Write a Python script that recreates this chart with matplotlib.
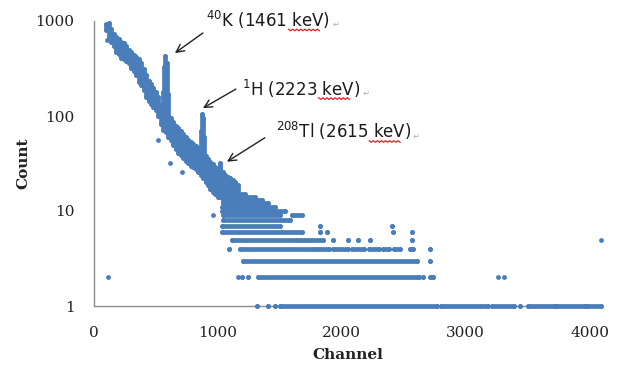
import numpy as np
import matplotlib
matplotlib.use('Agg')
from matplotlib import pyplot as plt
from matplotlib.lines import Line2D

# continuum (channels 100-1160): lowest / highest count seen in each 20-channel bin
band_ch = [100, 120, 140, 160, 180, 200, 220, 240, 260, 280, 300, 320, 340, 360,
           380, 400, 420, 440, 460, 480, 500, 520, 540, 560, 580, 600, 620, 640,
           660, 680, 700, 720, 740, 760, 780, 800, 820, 840, 860, 880, 900, 920,
           940, 960, 980, 1000, 1020, 1040, 1060, 1080, 1100, 1120, 1140, 1160]
band_hi = [920, 950, 820, 730, 680, 640, 600, 580, 540, 500, 470, 440, 420, 400,
           360, 310, 270, 235, 215, 195, 180, 160, 130, 118, 108, 100, 95, 86,
           78, 74, 69, 64, 60, 56, 53, 51, 48, 46, 43, 41, 38, 35,
           33, 31, 29, 28, 29, 26, 24, 23, 22, 21, 20, 19]
band_lo = [800, 680, 600, 540, 470, 450, 410, 400, 380, 360, 320, 300, 270, 230,
           210, 190, 160, 145, 135, 125, 115, 100, 82, 72, 68, 60, 56, 50,
           45, 41, 39, 36, 34, 32, 30, 29, 28, 26, 24, 22, 20, 19,
           17, 16, 15, 14, 14, 13, 13, 12, 11, 11, 11, 11]

# photopeaks (40K, 1H, 208Tl)
peak_ch = [556, 566, 576, 586, 596, 860, 870, 880, 890, 1005, 1015, 1025]
peak_lo = [85, 90, 95, 90, 80, 42, 45, 45, 40, 16, 16, 15]
peak_hi = [180, 330, 430, 360, 170, 70, 105, 95, 60, 26, 32, 24]

# single points away from the main band
iso_ch = [105, 113, 516, 613, 710, 960, 1160, 3258, 3306, 4095]
iso_ct = [630, 2, 56, 32, 26, 9, 2, 2, 2, 5]

# runs of channels sharing the same low integer count
seg_level = [1, 1, 1, 1, 1, 1, 1, 1, 1, 1,
             2, 2, 2, 2, 2,
             3, 3,
             4, 4, 4, 4, 4, 4, 4, 4, 4, 4,
             5, 5, 5, 5, 5, 5, 5, 5,
             6, 6, 6, 6, 6,
             7, 7, 7,
             8, 9, 9, 10, 11, 12, 13, 14, 15]
seg_start = [1315, 1403, 1460, 1500, 2800, 3210, 3435, 3500, 3740, 3980,
             1194, 1242, 1323, 2653, 2710,
             1202, 2710,
             1089, 1177, 1790, 1930, 2080, 2220, 2330, 2420, 2548, 2710,
             1113, 1661, 1730, 1927, 2048, 2129, 2226, 2565,
             1032, 1823, 1879, 2411, 2565,
             1032, 1823, 2403,
             1040, 1040, 1597, 1032, 1032, 1040, 1040, 1060, 1080]
seg_end = [1315, 1403, 1460, 2770, 3180, 3390, 3435, 3720, 3960, 4095,
           1194, 1242, 2620, 2653, 2740,
           2610, 2710,
           1089, 1766, 1900, 2050, 2180, 2300, 2380, 2470, 2573, 2710,
           1637, 1700, 1847, 1927, 2048, 2129, 2226, 2565,
           1677, 1823, 1879, 2411, 2565,
           1500, 1823, 2403,
           1580, 1500, 1677, 1540, 1460, 1403, 1355, 1298, 1218]

labels = [('$^{40}$K (1461 ', 'keV', ')'),
          ('$^{1}$H (2223 ', 'keV', ')'),
          ('$^{208}$Tl (2615 ', 'keV', ')')]
label_xy = [(905, 865), (1195, 164), (1465, 58)]
arrow_tail = [(879, 748), (1145, 192), (1379, 59)]
arrow_head = [(653, 460), (879, 121), (1073, 33)]

blue = '#4a7ebb'
lw = 3.4
ms = 12

plt.rcParams['mathtext.default'] = 'regular'

fig = plt.figure(figsize=(6.2, 3.7), dpi=100)
ax = fig.add_axes([94 / 620, 1 - 306 / 370, 508 / 620, 285 / 370])

kw = dict(color=blue, zorder=3)
cols = [ax.vlines(band_ch, band_lo, band_hi, lw=lw, capstyle='round', **kw),
        ax.vlines(peak_ch, peak_lo, peak_hi, lw=lw, capstyle='round', **kw),
        ax.hlines(seg_level, seg_start, seg_end, lw=lw, capstyle='round', **kw)]
for xs, ys in [(band_ch, band_hi), (band_ch, band_lo), (peak_ch, peak_hi),
               (seg_start, seg_level), (seg_end, seg_level), (iso_ch, iso_ct)]:
    cols.append(ax.scatter(xs, ys, s=ms, marker='o', linewidths=0, **kw))
for c in cols:
    c.set_clip_on(False)

ax.set_yscale('log')
ax.set_xlim(0, 4100)
ax.set_ylim(1, 1000)
ax.set_yticks([1, 10, 100, 1000])
ax.set_yticklabels(['1', '10', '100', '1000'])
ax.set_xticks([0, 1000, 2000, 3000, 4000])
ax.minorticks_off()
ax.tick_params(length=0, labelsize=11, labelcolor='#222222')
ax.tick_params(axis='y', pad=14)
ax.tick_params(axis='x', pad=14.5)
for lab in ax.get_xticklabels() + ax.get_yticklabels():
    lab.set_family('DejaVu Serif')
for side in ['top', 'right']:
    ax.spines[side].set_visible(False)
for side in ['left', 'bottom']:
    ax.spines[side].set_color('#8c8c8c')
    ax.spines[side].set_linewidth(1)
    ax.spines[side].set_zorder(1)

ax.set_xlabel('Channel', family='DejaVu Serif', fontweight='bold', fontsize=11,
              labelpad=6, color='#222222')
ax.set_ylabel('Count', family='DejaVu Serif', fontweight='bold', fontsize=11,
              labelpad=4, color='#222222')

texts = []
for (pre, unit, post), (x, y), tail, head in zip(labels, label_xy, arrow_tail, arrow_head):
    t = ax.text(x, y, pre + unit + post, fontsize=12, ha='left', va='baseline',
                color='#1a1a1a', family='DejaVu Sans')
    texts.append((t, pre, unit))
    ax.annotate('', xy=head, xytext=tail,
                arrowprops=dict(arrowstyle='->', color='#222222', lw=1,
                                shrinkA=0, shrinkB=0, mutation_scale=14))

# red spell-check underline under "keV" and the small return mark
fig.canvas.draw()
r = fig.canvas.get_renderer()
inv = fig.transFigure.inverted()
for t, pre, unit in texts:
    full = t.get_window_extent(r)
    x0, y0 = ax.transData.transform(t.get_position())
    tmp = ax.text(0, 0, pre, fontsize=12, family='DejaVu Sans')
    w_pre = tmp.get_window_extent(r).width
    tmp.set_text(unit)
    w_unit = tmp.get_window_extent(r).width
    tmp.remove()
    xs = np.linspace(x0 + w_pre, x0 + w_pre + w_unit, 16)
    ys = y0 - 3 + np.where(np.arange(16) % 2 == 0, 0.8, -0.8)
    pts = inv.transform(np.column_stack([xs, ys]))
    fig.add_artist(Line2D(pts[:, 0], pts[:, 1], color='#e02020', lw=0.9))
    px, py = inv.transform((full.x1 + 2, y0))
    fig.text(px, py, '\u21b5', fontsize=6, color='#aaaaaa', va='baseline')

fig.savefig('out.png', dpi=100)
